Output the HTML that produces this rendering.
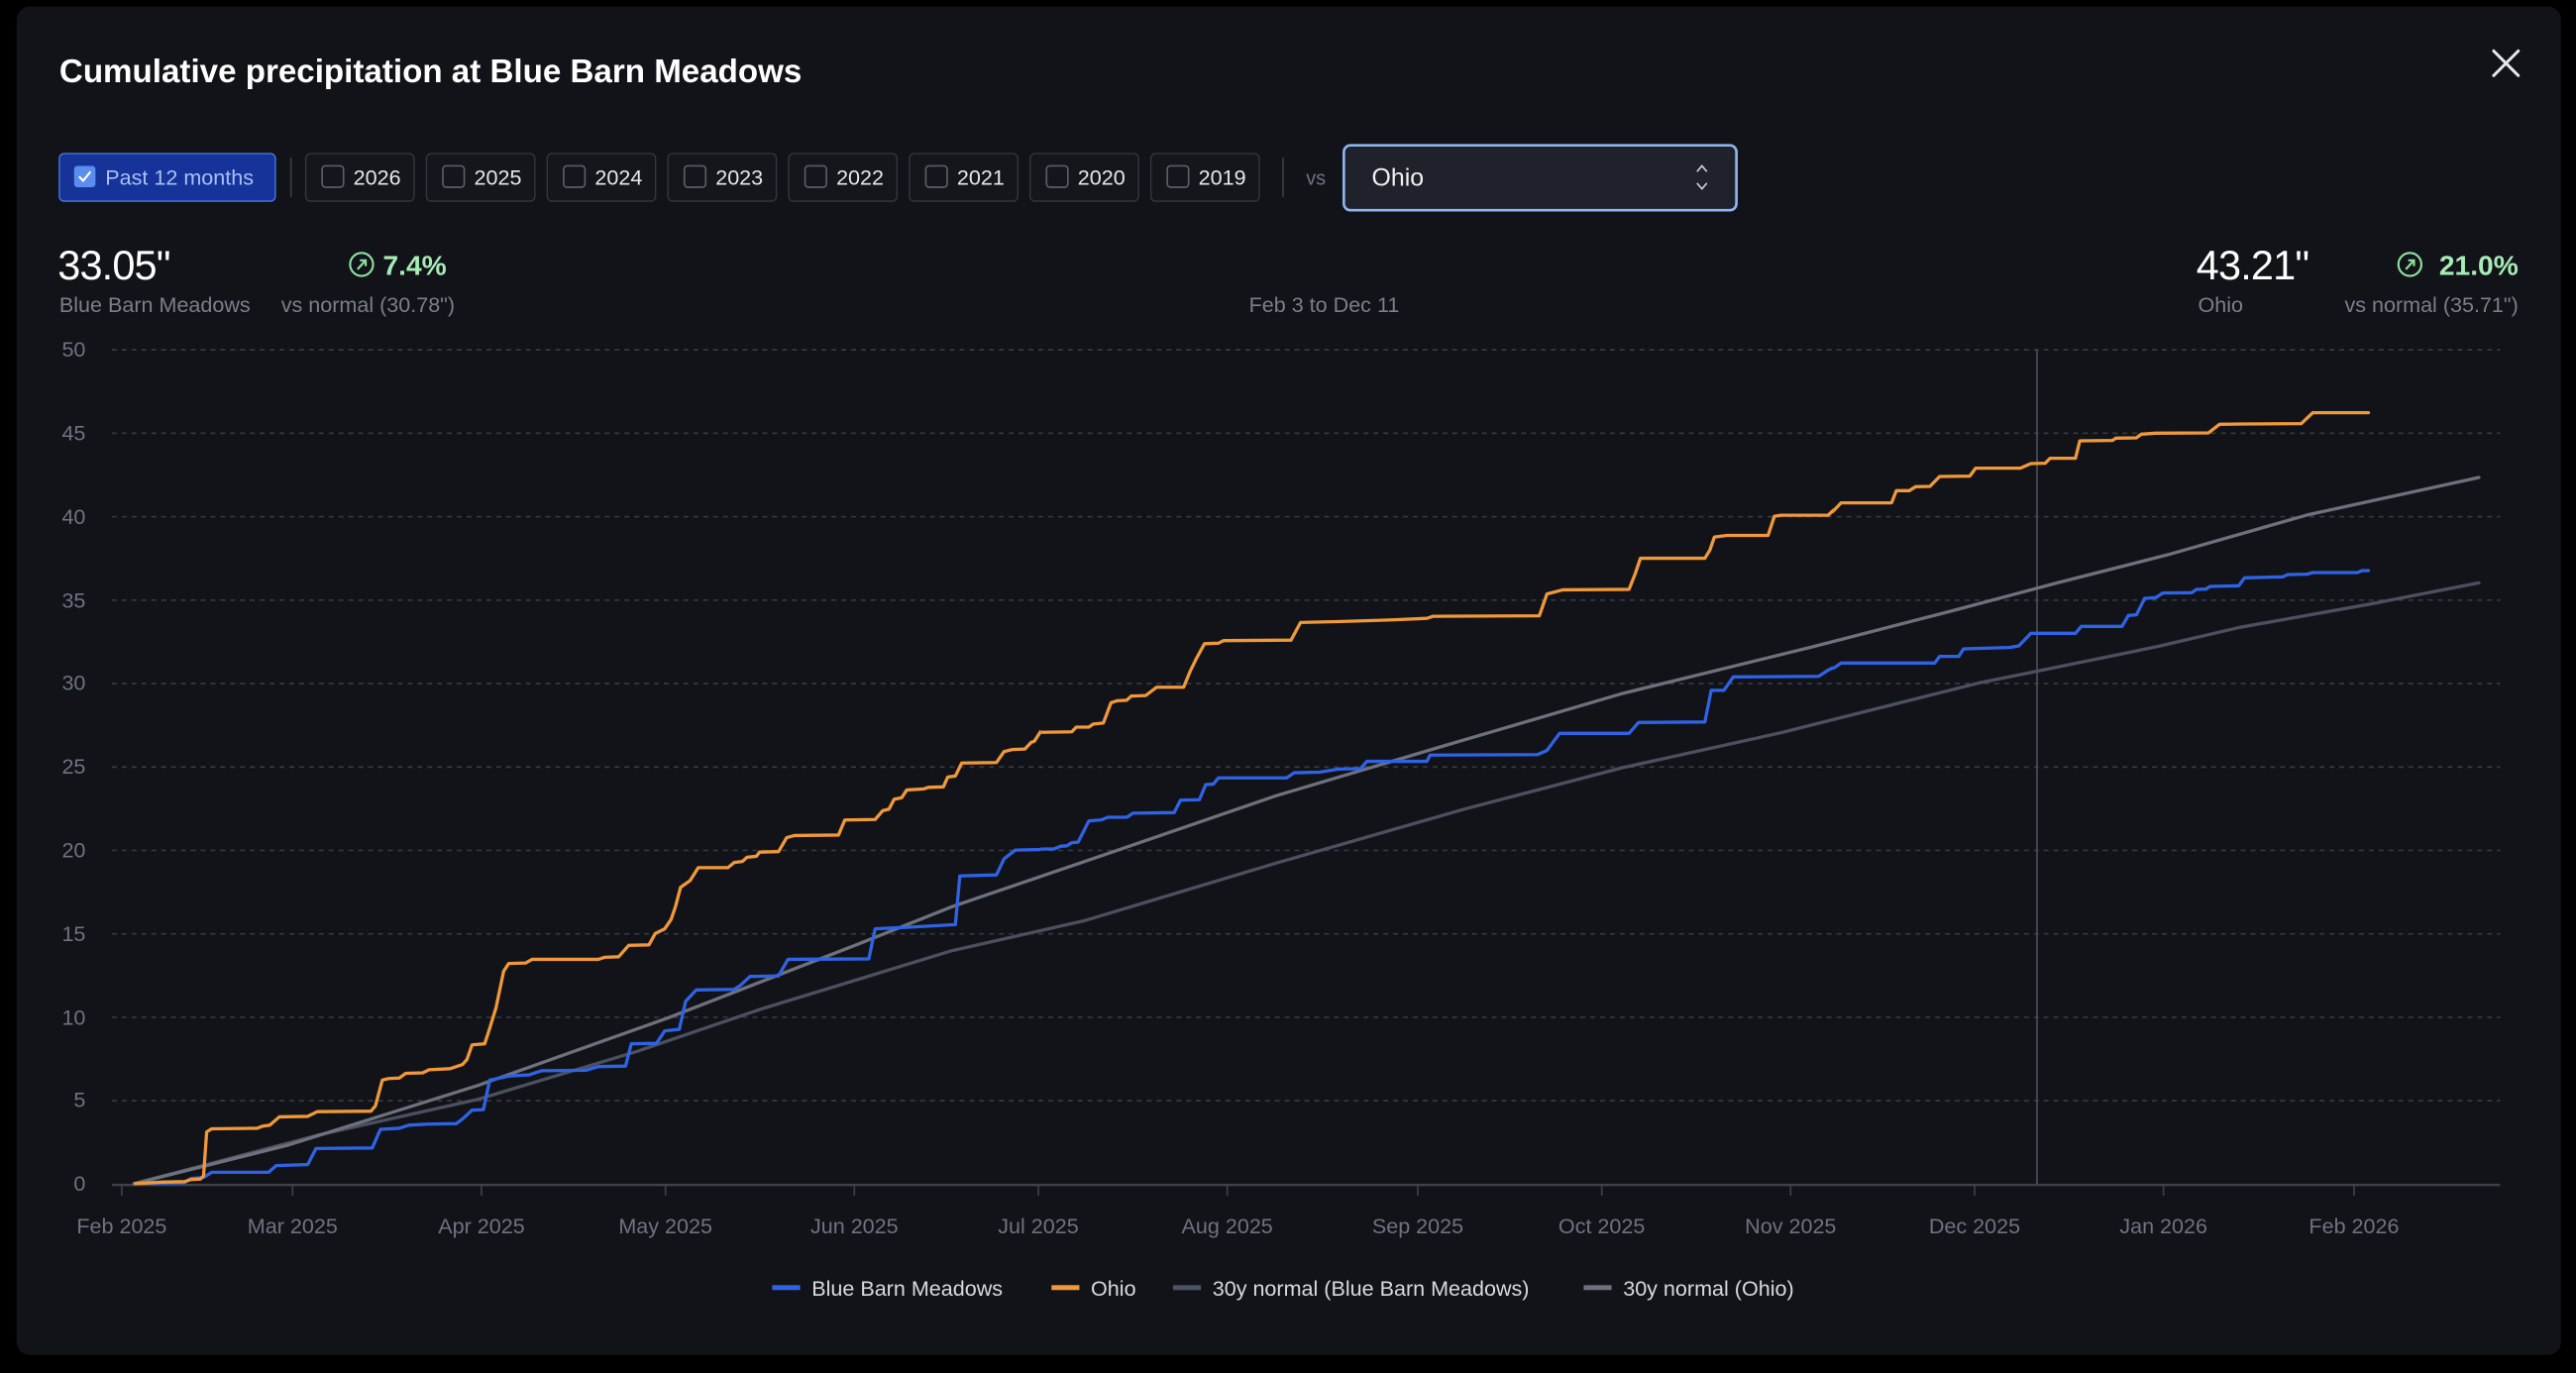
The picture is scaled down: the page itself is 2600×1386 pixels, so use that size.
<!DOCTYPE html>
<html><head><meta charset="utf-8"><style>
html,body{margin:0;padding:0;background:#000;width:2600px;height:1386px;overflow:hidden}
svg{display:block}
text{font-family:"Liberation Sans",sans-serif}
</style></head><body>
<svg width="2600" height="1386" viewBox="0 0 1568 836" xmlns="http://www.w3.org/2000/svg">
<defs>
<clipPath id="c4"><rect x="0" y="150" width="633.3" height="600"/></clipPath>
<clipPath id="c5"><rect x="633.3" y="150" width="482.5" height="600"/></clipPath>
<clipPath id="c6"><rect x="1115.8" y="150" width="440" height="600"/></clipPath>
</defs>
<rect x="0" y="0" width="1568" height="836" fill="#000"/>
<rect x="10" y="4" width="1549" height="821" rx="8" fill="#111318"/>
<text x="36" y="50" font-size="20" font-weight="bold" fill="#fff">Cumulative precipitation at Blue Barn Meadows</text>
<g stroke="#e6e7ea" stroke-width="1.8" stroke-linecap="round"><line x1="1518" y1="31" x2="1533" y2="46"/><line x1="1533" y1="31" x2="1518" y2="46"/></g>

<!-- buttons -->
<rect x="36" y="93.5" width="131.5" height="29" rx="3" fill="#16339a" stroke="#4a7be0" stroke-width="0.8"/>
<rect x="45" y="101" width="13" height="13" rx="2" fill="#5b8cf0"/>
<polyline points="48,107.5 50.5,110 55,104.5" fill="none" stroke="#fff" stroke-width="1.3"/>
<text x="64" y="112.5" font-size="13" fill="#a9c0f5">Past 12 months</text>
<line x1="177" y1="96" x2="177" y2="120" stroke="#3a3d45" stroke-width="1"/>
<g font-size="13" fill="#e6e7ea">
<rect x="186" y="93.5" width="66" height="29" rx="3" fill="#14161b" stroke="#34373f" stroke-width="0.8"/><rect x="196" y="101" width="13" height="13" rx="2" fill="none" stroke="#5a5e68"/><text x="215" y="112.5">2026</text>
<rect x="259.5" y="93.5" width="66" height="29" rx="3" fill="#14161b" stroke="#34373f" stroke-width="0.8"/><rect x="269.5" y="101" width="13" height="13" rx="2" fill="none" stroke="#5a5e68"/><text x="288.5" y="112.5">2025</text>
<rect x="333" y="93.5" width="66" height="29" rx="3" fill="#14161b" stroke="#34373f" stroke-width="0.8"/><rect x="343" y="101" width="13" height="13" rx="2" fill="none" stroke="#5a5e68"/><text x="362" y="112.5">2024</text>
<rect x="406.5" y="93.5" width="66" height="29" rx="3" fill="#14161b" stroke="#34373f" stroke-width="0.8"/><rect x="416.5" y="101" width="13" height="13" rx="2" fill="none" stroke="#5a5e68"/><text x="435.5" y="112.5">2023</text>
<rect x="480" y="93.5" width="66" height="29" rx="3" fill="#14161b" stroke="#34373f" stroke-width="0.8"/><rect x="490" y="101" width="13" height="13" rx="2" fill="none" stroke="#5a5e68"/><text x="509" y="112.5">2022</text>
<rect x="553.5" y="93.5" width="66" height="29" rx="3" fill="#14161b" stroke="#34373f" stroke-width="0.8"/><rect x="563.5" y="101" width="13" height="13" rx="2" fill="none" stroke="#5a5e68"/><text x="582.5" y="112.5">2021</text>
<rect x="627" y="93.5" width="66" height="29" rx="3" fill="#14161b" stroke="#34373f" stroke-width="0.8"/><rect x="637" y="101" width="13" height="13" rx="2" fill="none" stroke="#5a5e68"/><text x="656" y="112.5">2020</text>
<rect x="700.5" y="93.5" width="66" height="29" rx="3" fill="#14161b" stroke="#34373f" stroke-width="0.8"/><rect x="710.5" y="101" width="13" height="13" rx="2" fill="none" stroke="#5a5e68"/><text x="729.5" y="112.5">2019</text>
</g>
<line x1="781" y1="96" x2="781" y2="120" stroke="#3a3d45" stroke-width="1"/>
<text x="795" y="112.5" font-size="12" fill="#6e7380">vs</text>
<rect x="818" y="88.5" width="239" height="39.5" rx="4" fill="#1f222a" stroke="#8fb4f0" stroke-width="1.6"/>
<text x="835" y="113" font-size="15" fill="#f0f1f3">Ohio</text>
<polyline points="1033,104.5 1036,101 1039,104.5" fill="none" stroke="#cfd2d8" stroke-width="1"/>
<polyline points="1033,111.5 1036,115 1039,111.5" fill="none" stroke="#cfd2d8" stroke-width="1"/>

<!-- stats -->
<text x="35" y="170" font-size="25" fill="#fff" letter-spacing="-0.5">33.05"</text>
<text x="36" y="190" font-size="13" fill="#7a7f8a">Blue Barn Meadows</text>
<circle cx="220" cy="161" r="7" fill="none" stroke="#8ee0a0" stroke-width="1.3"/>
<polyline points="217.5,164 222.5,158.5" fill="none" stroke="#8ee0a0" stroke-width="1.3"/>
<polyline points="219,158.5 222.5,158.5 222.5,162" fill="none" stroke="#8ee0a0" stroke-width="1.3"/>
<text x="233" y="167.5" font-size="17" font-weight="bold" fill="#a6ecb6">7.4%</text>
<text x="171" y="190" font-size="13" fill="#7a7f8a">vs normal (30.78")</text>
<text x="806" y="190" font-size="13" fill="#7a7f8a" text-anchor="middle">Feb 3 to Dec 11</text>
<text x="1337" y="170" font-size="25" fill="#fff" letter-spacing="-0.5">43.21"</text>
<text x="1338" y="190" font-size="13" fill="#7a7f8a">Ohio</text>
<circle cx="1467" cy="161" r="7" fill="none" stroke="#8ee0a0" stroke-width="1.3"/>
<polyline points="1464.5,164 1469.5,158.5" fill="none" stroke="#8ee0a0" stroke-width="1.3"/>
<polyline points="1466,158.5 1469.5,158.5 1469.5,162" fill="none" stroke="#8ee0a0" stroke-width="1.3"/>
<text x="1533" y="167.5" font-size="17" font-weight="bold" fill="#a6ecb6" text-anchor="end">21.0%</text>
<text x="1533" y="190" font-size="13" fill="#7a7f8a" text-anchor="end">vs normal (35.71")</text>

<!-- grid -->
<g stroke="#363941" stroke-width="1" stroke-dasharray="3,3">
<line x1="68" y1="213" x2="1522" y2="213"/><line x1="68" y1="263.8" x2="1522" y2="263.8"/><line x1="68" y1="314.6" x2="1522" y2="314.6"/><line x1="68" y1="365.4" x2="1522" y2="365.4"/><line x1="68" y1="416.2" x2="1522" y2="416.2"/><line x1="68" y1="467" x2="1522" y2="467"/><line x1="68" y1="517.8" x2="1522" y2="517.8"/><line x1="68" y1="568.6" x2="1522" y2="568.6"/><line x1="68" y1="619.4" x2="1522" y2="619.4"/><line x1="68" y1="670.2" x2="1522" y2="670.2"/>
</g>
<g font-size="13" fill="#6e7380" text-anchor="end">
<text x="52" y="217">50</text><text x="52" y="268">45</text><text x="52" y="319">40</text><text x="52" y="370">35</text><text x="52" y="420">30</text><text x="52" y="471">25</text><text x="52" y="522">20</text><text x="52" y="573">15</text><text x="52" y="624">10</text><text x="52" y="674">5</text><text x="52" y="725">0</text>
</g>
<line x1="1240" y1="213" x2="1240" y2="721" stroke="#4a4e57" stroke-width="1"/>
<line x1="68" y1="721.5" x2="1522" y2="721.5" stroke="#3d414b" stroke-width="1.5"/>
<g stroke="#3d414b" stroke-width="1">
<line x1="74" y1="721" x2="74" y2="728"/><line x1="178" y1="721" x2="178" y2="728"/><line x1="293" y1="721" x2="293" y2="728"/><line x1="405" y1="721" x2="405" y2="728"/><line x1="520" y1="721" x2="520" y2="728"/><line x1="632" y1="721" x2="632" y2="728"/><line x1="747" y1="721" x2="747" y2="728"/><line x1="863" y1="721" x2="863" y2="728"/><line x1="975" y1="721" x2="975" y2="728"/><line x1="1090" y1="721" x2="1090" y2="728"/><line x1="1202" y1="721" x2="1202" y2="728"/><line x1="1317" y1="721" x2="1317" y2="728"/><line x1="1433" y1="721" x2="1433" y2="728"/>
</g>
<g font-size="13" fill="#6e7380" text-anchor="middle">
<text x="74" y="751">Feb 2025</text><text x="178" y="751">Mar 2025</text><text x="293" y="751">Apr 2025</text><text x="405" y="751">May 2025</text><text x="520" y="751">Jun 2025</text><text x="632" y="751">Jul 2025</text><text x="747" y="751">Aug 2025</text><text x="863" y="751">Sep 2025</text><text x="975" y="751">Oct 2025</text><text x="1090" y="751">Nov 2025</text><text x="1202" y="751">Dec 2025</text><text x="1317" y="751">Jan 2026</text><text x="1433" y="751">Feb 2026</text>
</g>

<!-- normals -->
<g fill="none" stroke-width="2" stroke-linejoin="round" stroke-linecap="round">
<polyline stroke="#4b5060" points="81.5,720.7 195,690.8 291.1,669.3 387.3,640.3 464.2,614.1 579.6,578.8 660.8,560.4 776.2,525.7 891.6,492.6 987.8,467.4 1083.9,446.2 1204,416 1313.7,393.6 1363.4,382 1442.3,367.9 1509,354.9"/>
<polyline stroke="#6d717d" points="81.5,720.7 175.7,697.1 291.1,660.8 406.5,619.8 521.9,575 579.6,552 680,517.8 776.2,484.7 880,453.8 987.8,422.2 1103.2,393.9 1188,372 1252.3,354.9 1319.5,337.8 1404.3,313.6 1509,290.7"/>
</g>

<!-- series: segment 1 -->
<g clip-path="url(#c4)"><g transform="matrix(0.38465,0,0,0.31545,60.31,241.25)" fill="none" stroke-width="3.3" stroke-linejoin="round">
<polyline vector-effect="non-scaling-stroke" stroke="#2f63e6" points="55,1520 135,1518 145,1510 165,1508 178,1498 268,1498 280,1485 330,1483 343,1452 432,1451 445,1415 475,1413 490,1407 520,1405 565,1404 575,1395 590,1378 608,1377 618,1320 650,1312 680,1310 700,1302 770,1301 790,1294 833,1293 842,1250 882,1249 895,1225 918,1222 928,1168 945,1146 1005,1145 1015,1137 1030,1120 1075,1119 1090,1087 1218,1086 1228,1028 1280,1025 1355,1020 1362,926 1420,924 1432,893 1450,876 1490,875 1530,870 1548,862 1565,820"/>
<polyline vector-effect="non-scaling-stroke" stroke="#f0983a" points="55,1520 100,1517 135,1516 145,1512 160,1511 165,1505 170,1420 178,1414 250,1413 258,1409 270,1407 285,1391 330,1390 345,1381 430,1380 437,1370 448,1320 458,1317 475,1316 485,1307 512,1306 522,1300 555,1298 575,1290 582,1280 590,1252 610,1250 618,1220 628,1180 640,1110 648,1095 675,1094 685,1087 790,1087 800,1083 822,1082 838,1060 870,1059 880,1037 895,1028 905,1010 912,985 920,948 935,935 948,910 995,910 1005,900 1018,898 1025,890 1040,888 1045,880 1075,879 1088,852 1100,848 1170,847 1180,818 1228,817 1240,800 1250,797 1258,778 1270,775 1278,760 1305,758 1312,755 1336,754 1343,735 1355,733 1365,708 1420,707 1432,686 1445,682 1465,681 1475,668 1480,666 1490,647 1568,640"/>
</g></g>
<!-- segment 2 -->
<g clip-path="url(#c5)"><g transform="matrix(0.38465,0,0,0.31545,603.14,229.19)" fill="none" stroke-width="3.3" stroke-linejoin="round">
<polyline vector-effect="non-scaling-stroke" stroke="#2f63e6" points="0,962 10,958 20,932 30,928 38,913 100,912 110,907 120,906 128,900 138,899 155,858 175,856 185,851 215,851 225,843 290,842 300,818 330,817 340,788 352,787 360,775 468,775 480,765 520,764 550,758 585,757 595,743 690,743 695,731 865,730 880,722 900,689 1010,689 1025,668 1130,667 1140,606 1160,606 1175,580 1310,579 1325,567 1345,555 1495,554 1505,541 1530,541 1540,526 1568,526"/>
<polyline vector-effect="non-scaling-stroke" stroke="#f0983a" points="0,745 10,745 20,725 35,719 52,718 60,708 70,703 78,687 128,686 135,677 155,677 162,671 178,669 190,630 200,626 215,625 222,617 245,616 262,600 305,600 315,570 325,545 338,516 360,515 368,510 475,509 490,475 555,473 635,470 690,467 700,463 868,462 880,420 905,412 1010,411 1020,380 1028,351 1130,351 1138,335 1145,310 1165,307 1230,307 1240,270 1250,268 1325,268 1345,245 1425,245 1432,223 1455,222 1465,213 1492,212 1505,193 1550,193 1562,178"/>
</g></g>
<!-- segment 3 -->
<g clip-path="url(#c6)"><g transform="matrix(0.29237,0,0,0.20105,1085.65,199.04)" fill="none" stroke-width="3.3" stroke-linejoin="round" stroke-linecap="round">
<polyline vector-effect="non-scaling-stroke" stroke="#2f63e6" points="0,1060 75,1058 90,1040 105,1033 120,1018 315,1018 325,998 365,998 375,975 470,971 490,966 515,928 608,928 620,907 705,907 718,874 735,872 752,822 775,820 790,806 850,805 860,795 880,794 888,786 948,784 960,760 1040,757 1050,750 1090,749 1102,744 1195,744 1205,738 1218,738"/>
<polyline vector-effect="non-scaling-stroke" stroke="#f0983a" points="0,572 95,571 120,533 225,533 235,496 262,496 275,484 305,483 325,453 388,452 400,428 493,428 515,414 545,413 555,398 608,398 617,345 685,344 692,337 735,336 745,325 775,322 885,321 908,295 960,294 1078,293 1102,260 1218,260"/>
</g></g>

<!-- legend -->
<rect x="470" y="782.5" width="17" height="3" fill="#2f63e6"/>
<text x="494" y="789" font-size="13" fill="#d8dae0">Blue Barn Meadows</text>
<rect x="640" y="782.5" width="17" height="3" fill="#f0983a"/>
<text x="664" y="789" font-size="13" fill="#d8dae0">Ohio</text>
<rect x="714" y="782.5" width="17" height="3" fill="#4b5263"/>
<text x="738" y="789" font-size="13" fill="#d8dae0">30y normal (Blue Barn Meadows)</text>
<rect x="964" y="782.5" width="17" height="3" fill="#6d717d"/>
<text x="988" y="789" font-size="13" fill="#d8dae0">30y normal (Ohio)</text>
</svg>
</body></html>
